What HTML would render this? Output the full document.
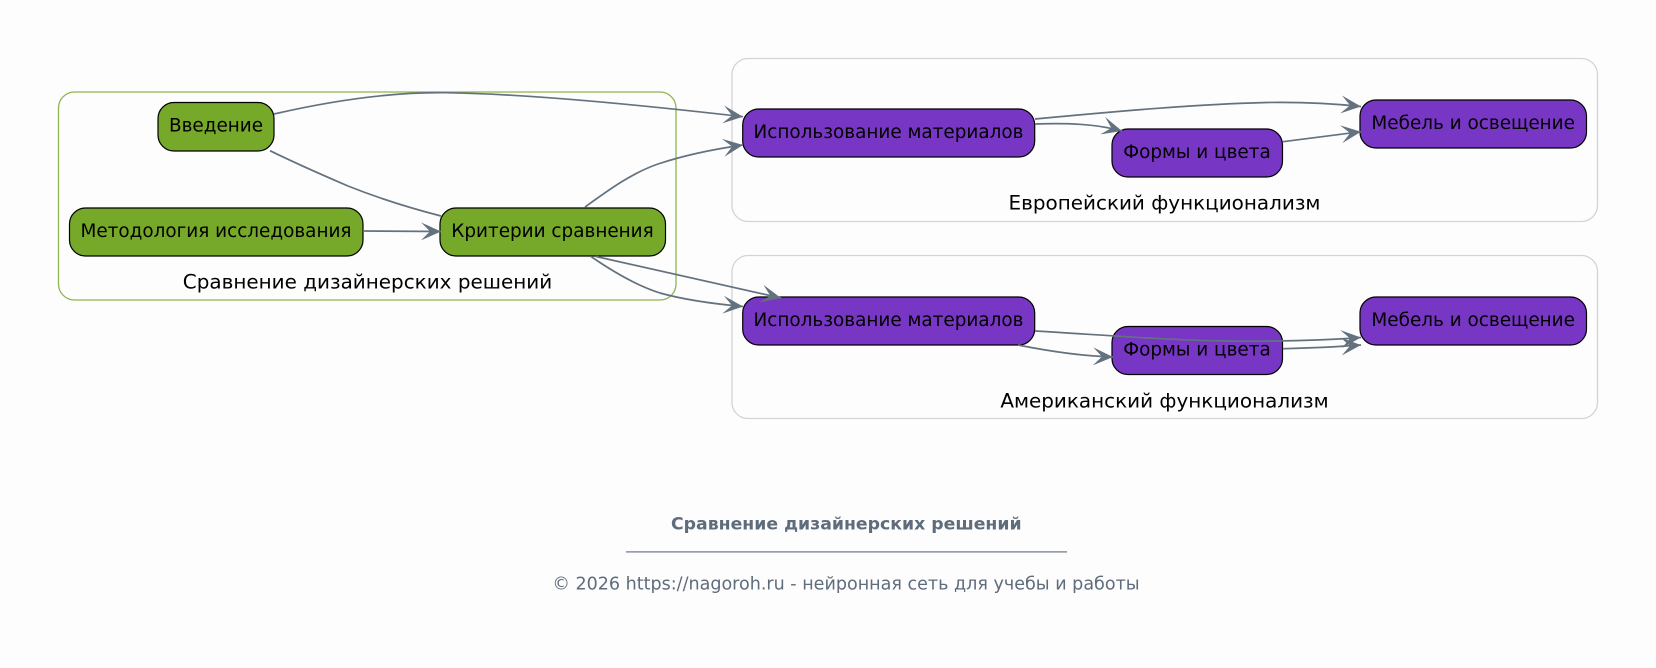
<!DOCTYPE html>
<html><head><meta charset="utf-8"><style>
html,body{margin:0;padding:0;background:#fdfdfd}
svg{display:block}
text{font-family:"DejaVu Sans",sans-serif;text-anchor:middle;dominant-baseline:central;fill:#000;font-size:18.4px}
text.l{font-size:19.95px}
.c{fill:none}
.n{stroke:#000;stroke-width:1.2}
.g{fill:#76a82a}.p{fill:#7836c4}
.e{fill:none;stroke:#64727f;stroke-width:1.7}
</style></head><body>
<svg width="1656" height="668" viewBox="0 0 1656 668" xmlns="http://www.w3.org/2000/svg">
<defs><marker id="a" markerUnits="userSpaceOnUse" markerWidth="24" markerHeight="24" refX="22" refY="12" orient="auto" viewBox="0 0 24 24"><path d="M22,12 L2,3 L11,12 L2,21 Z" fill="#64727f"/></marker></defs>
<rect class="c" x="58.5" y="92" width="617.5" height="208" rx="16" stroke="#8fb54e" stroke-width="1.3"/>
<rect class="c" x="732" y="58.5" width="865.5" height="163" rx="16" stroke="#d4d4d4" stroke-width="1.3"/>
<rect class="c" x="732" y="255.5" width="865.5" height="163" rx="16" stroke="#d4d4d4" stroke-width="1.3"/>

<rect class="n g" x="158" y="102.5" width="116" height="48.5" rx="16"/>
<rect class="n g" x="69.5" y="208" width="293.5" height="48" rx="16"/>
<rect class="n g" x="440" y="208" width="225.5" height="48" rx="16"/>
<rect class="n p" x="742.7" y="109" width="292" height="48" rx="16"/>
<rect class="n p" x="1112" y="129" width="170.5" height="48" rx="16"/>
<rect class="n p" x="1360" y="100" width="226.5" height="48" rx="16"/>
<rect class="n p" x="742.7" y="297" width="292" height="48" rx="16"/>
<rect class="n p" x="1112" y="326.5" width="170.5" height="48" rx="16"/>
<rect class="n p" x="1360" y="297" width="226.5" height="48" rx="16"/>

<path class="e" marker-end="url(#a)" d="M274,114 C335,100 395,92 446,92.7 C530,94 640,105 743,116.7"/>
<path class="e" d="M270,150.7 C295,163 320,174 348,186 C378,198 410,208 441,216"/>
<path class="e" marker-end="url(#a)" d="M363,231 L441,231.5"/>
<path class="e" marker-end="url(#a)" d="M585,207 C610,189 632,173 658,164 C685,155 715,149 743,145"/>
<path class="e" marker-end="url(#a)" d="M596,256.5 L781,298"/>
<path class="e" marker-end="url(#a)" d="M591,256.5 C612,271 635,285 660,293 C685,300 715,304 743,306.5"/>
<path class="e" marker-end="url(#a)" d="M1035,119 C1120,111 1200,104 1267,102.5 C1300,102 1332,103.5 1361,106.5"/>
<path class="e" marker-end="url(#a)" d="M1035,124 C1065,123 1095,123.5 1122,131"/>
<path class="e" marker-end="url(#a)" d="M1283,141.7 L1361,131.7"/>
<path class="e" marker-end="url(#a)" d="M1035,331 C1090,334 1160,340 1225,341 C1280,341.5 1330,340 1361,337.5"/>
<path class="e" marker-end="url(#a)" d="M1018,345 C1048,351 1080,356 1113,357"/>
<path class="e" marker-end="url(#a)" d="M1283,348.7 C1310,348 1335,347 1361,345"/>

<text x="216" y="126">Введение</text>
<text x="216" y="231.7">Методология исследования</text>
<text x="552.5" y="231.7">Критерии сравнения</text>
<text x="888.5" y="132.7">Использование материалов</text>
<text x="1197" y="152.7">Формы и цвета</text>
<text x="1473.2" y="123.7">Мебель и освещение</text>
<text x="888.5" y="320.7">Использование материалов</text>
<text x="1197" y="350.2">Формы и цвета</text>
<text x="1473.2" y="320.7">Мебель и освещение</text>
<text class="l" x="367.5" y="281.5">Сравнение дизайнерских решений</text>
<text class="l" x="1164.5" y="202.5">Европейский функционализм</text>
<text class="l" x="1164.5" y="400.5">Американский функционализм</text>

<text x="846.3" y="524.5" style="font-size:17.3px;font-weight:bold;fill:#5f6c7b">Сравнение дизайнерских решений</text>
<rect x="626" y="551.3" width="441" height="1.2" fill="#6b7885"/>
<text x="846" y="584.5" style="font-size:17.55px;fill:#5f6c7b">© 2026 https://nagoroh.ru - нейронная сеть для учебы и работы</text>
</svg>
</body></html>
